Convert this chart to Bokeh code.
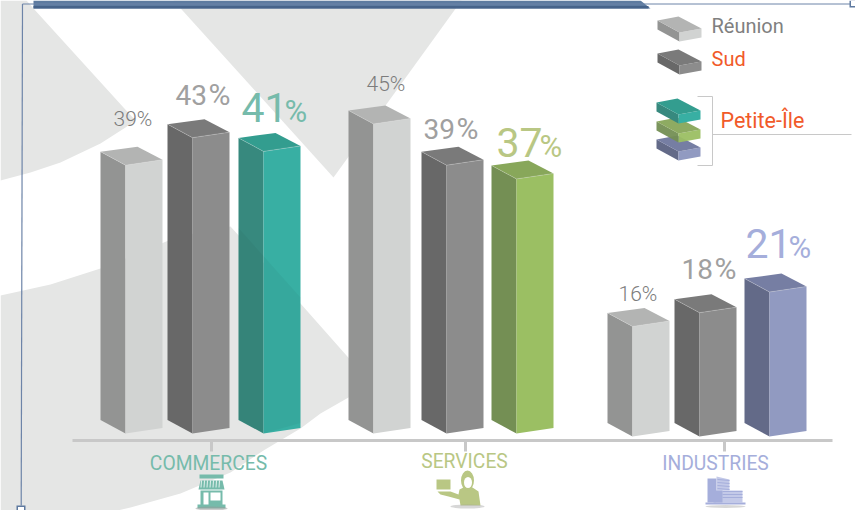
from bokeh.plotting import figure
from bokeh.core.properties import value
from bokeh.embed import file_html
from bokeh.resources import INLINE

# ---- data
categories = ["COMMERCES", "SERVICES", "INDUSTRIES"]
reunion = [39, 45, 16]
sud = [43, 39, 18]
petite_ile = [41, 37, 21]
legend_labels = ["Réunion", "Sud", "Petite-Île"]

# ---- layout (reference pixels)
W, H = 855, 510
K = 6.88          # px per percentage point
BASE = 433.0      # pixel row of value 0
FONT = value("Roboto")
LIGHT = value("Roboto Light")
def vy(py):
    return (BASE - py) / K
def ys(pts):
    return [vy(q) for q in pts]

p = figure(width=W, height=H, x_range=(0, W), y_range=(vy(H), vy(0)),
           output_backend="svg", toolbar_location=None, x_axis_type=None,
           y_axis_type=None, min_border=0, outline_line_color=None,
           background_fill_color="white", border_fill_color="white")
p.grid.visible = False

def poly(pts, color, alpha=1.0):
    p.patch([a for a, _ in pts], ys([b for _, b in pts]), fill_color=color,
            fill_alpha=alpha, line_color=None)
def seg(x0, y0, x1, y1, color, w=1.0, alpha=1.0):
    p.line([x0, x1], ys([y0, y1]), line_color=color, line_width=w, line_alpha=alpha)
def rect(x0, y0, x1, y1, color):
    poly([(x0, y0), (x1, y0), (x1, y1), (x0, y1)], color)
def label(x, py, txt, size, color, align="left", font=FONT):
    # py is the glyph baseline row
    p.text([x], [vy(py - 0.37 * size)], text=[txt], text_font=font,
           text_font_size=f"{size}px", text_color=color, text_align=align,
           text_baseline="alphabetic")

# ---- background shapes
BG = "#e5e6e5"
poly([(0, 0), (26, 0), (33, 8), (123, 107), (135, 120), (125, 127), (100, 143),
      (60, 162), (30, 172), (0, 180)], BG)
poly([(173, 0), (461, 0), (333, 177)], BG)
shape_c = [(0, 295), (50, 284), (100, 268), (140, 252), (168, 240), (200, 231), (230, 226),
           (300, 303), (369, 381), (348, 397), (320, 413), (300, 428), (263, 450),
           (230, 472), (180, 493), (130, 507), (117, 510), (0, 510)]
poly(shape_c, BG)

# ---- frame and top band
FR = "#6d84a8"
poly([(33, 0), (640, 0), (650, 8), (33, 8)], "#5d7ba0")
rect(33, 5.5, 648, 8, "#46638a")
seg(22, 3.5, 850, 3.5, FR, 1)
seg(22, 3.5, 20.7, 505, FR, 1.2)
rect(16, 505, 25, 510, "#5f7aa0")
rect(17.5, 506.5, 23.5, 510, "white")
rect(849, 0, 855, 7, "#5f7aa0")
rect(850.5, 0, 855, 5.5, "white")

# ---- bars
styles = {
    "reu": ("#939493", "#d1d3d2", "#b3b4b3"),
    "sud": ("#686868", "#8c8c8c", "#7a7a7a"),
    "teal": ("#37897e", "#38afa3", "#339d8f"),
    "green": ("#748f54", "#9bbf63", "#88a75a"),
    "blue": ("#636a88", "#919ac1", "#767ea3"),
}
bar_x = [[100, 167, 238], [348, 421, 491], [607, 674, 744]]
group_base = [433, 433, 436]
DEPTH, FACE = 25, 37
third = ["teal", "green", "blue"]
for g in range(3):
    vals = [reunion[g], sud[g], petite_ile[g]]
    keys = ["reu", "sud", third[g]]
    for x0, v, key in zip(bar_x[g], vals, keys):
        left, front, top = styles[key]
        b = group_base[g]
        t = b - v * K
        xf, xr, xb = x0 + DEPTH, x0 + DEPTH + FACE, x0 + FACE
        poly([(x0, t - 13.5), (xf, t), (xf, b), (x0, b - 13.5)], left)
        poly([(xf, t), (xr, t - 5.5), (xr, b - 5.5), (xf, b)], front)
        poly([(x0, t - 13.5), (xb, t - 18.5), (xr, t - 5.5), (xf, t)], top)
        seg(x0, t - 13.5, xf, t, "#e8e8e8", 0.5, 0.5)
        seg(xf, t, xr, t - 5.5, "#e8e8e8", 0.5, 0.5)

# tint where the teal bar crosses the grey shape
poly([(238, 227.5), (300, 297), (300, 422.5), (263, 433), (238, 419)], "#000000", 0.035)

# ---- base axis
AX = "#c8c8c8"
seg(72, 440, 832, 440, AX, 3)
for tx in [211, 465, 724]:
    seg(tx, 441, tx, 451, AX, 3)

# ---- value labels (number x, baseline)
small_gray, big_gray = "#7c7c7c", "#a0a0a0"
lbl_colors = ["#76bbab", "#b9c784", "#a5aedb"]
lab_reu = [(113, 126), (366, 91), (618, 301)]
lab_sud = [(175, 105), (423, 139), (681, 279)]
lab_pi = [(241, 122), (496, 157), (745, 258)]
for g in range(3):
    x, b = lab_reu[g]
    label(x, b, f"{reunion[g]}%", 21, small_gray, font=LIGHT)
    x, b = lab_sud[g]
    label(x, b, f"{sud[g]}", 28, big_gray)
    label(x + 33, b, "%", 30, big_gray)
    x, b = lab_pi[g]
    label(x, b, f"{petite_ile[g]}", 41, lbl_colors[g])
    label(x + 43, b, "%", 31, lbl_colors[g])

# ---- category labels
cat_x = [208, 464, 715]
cat_y = [470, 468, 470]
for c, x, b, col in zip(categories, cat_x, cat_y, lbl_colors):
    label(x, b, c, 19.3, col, align="center")

# ---- legend
def slab(x, y, key, thick=9, alpha=1.0):
    left, front, top = styles[key]
    poly([(x, y), (x + 22, y + 12), (x + 22, y + 12 + thick), (x, y + thick)], left, alpha)
    poly([(x + 22, y + 12), (x + 44, y + 8), (x + 44, y + 8 + thick), (x + 22, y + 12 + thick)], front, alpha)
    poly([(x, y), (x + 21, y - 4), (x + 44, y + 8), (x + 22, y + 12)], top, alpha)
slab(657, 20, "reu")
slab(657, 53, "sud")
slab(656, 139, "blue")
slab(656, 121, "green", alpha=0.95)
slab(656, 102, "teal")
LEG = "#c8c8c8"
seg(697, 96, 712, 96, LEG, 1)
seg(712, 96, 712, 165, LEG, 1)
seg(697, 165, 712, 165, LEG, 1)
seg(712, 134, 851, 134, LEG, 1)
ORANGE = "#f15a29"
label(711, 33, legend_labels[0], 20, "#808080")
label(711, 66, legend_labels[1], 20, ORANGE)
label(720, 128, legend_labels[2], 21.5, ORANGE)

# ---- icons
shop = lbl_colors[0]
rect(199, 474, 223, 478, shop)
poly([(200, 480), (222, 480), (224, 489), (198, 489)], shop)
for sx in range(201, 222, 3):
    seg(sx, 480, sx - 0.5, 487, "white", 0.8)
rect(200, 490, 222, 505, shop)
rect(203, 492, 208, 505, "white")
rect(210, 492, 220, 500, "white")
rect(197, 504, 225, 508, shop)
p.ellipse([211], [vy(508)], width=[32], height=[4 / K], fill_color="#9a9a9a", fill_alpha=0.5, line_color=None)

person = lbl_colors[1]
rect(436, 479, 450, 489, person)
poly([(437, 491), (450, 491), (458, 494), (459, 489), (463, 487), (472, 487),
      (478, 491), (480, 505), (460, 505), (459, 499), (448, 496), (440, 494)], person)
p.ellipse([467], [vy(480)], width=[13], height=[20 / K], fill_color=person, line_color=None)
p.ellipse([467.5], [vy(482)], width=[8], height=[11 / K], fill_color="#ffffff", line_color=None)
p.ellipse([467], [vy(506)], width=[34], height=[4 / K], fill_color="#9a9a9a", fill_alpha=0.4, line_color=None)

bld = lbl_colors[2]
rect(707, 478, 716, 502, bld)
poly([(716, 476), (729, 479), (729, 490), (716, 490)], "#c3c9e8")
for ly in [479, 482, 485, 488]:
    seg(717, ly, 729, ly + 1, bld, 1)
rect(716, 490, 742, 502, "#c3c9e8")
for ly in [491, 494, 497]:
    seg(722, ly, 742, ly, bld, 1)
rect(713, 490, 722, 502, bld)
rect(705, 502, 745, 504, bld)
p.ellipse([725], [vy(506)], width=[40], height=[3 / K], fill_color="#9a9a9a", fill_alpha=0.4, line_color=None)

open("out.html", "w").write(file_html(p, INLINE))
